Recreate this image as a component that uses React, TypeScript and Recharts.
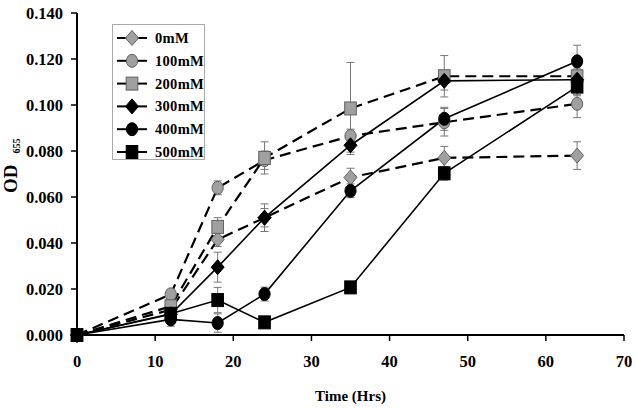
import React from 'react';
import { LineChart, Line, XAxis, YAxis, ErrorBar, Legend } from 'recharts';

const hours = [0, 12, 18, 24, 35, 47, 64];
const seriesNames = ['0mM', '100mM', '200mM', '300mM', '400mM', '500mM'];
const od0 = [0, 0.011, 0.0415, 0.051, 0.0685, 0.077, 0.078];
const od100 = [0, 0.0177, 0.064, 0.076, 0.0865, 0.0925, 0.1005];
const od200 = [0, 0.0125, 0.047, 0.077, 0.0985, 0.1125, 0.1125];
const od300 = [0, 0.009, 0.0295, 0.051, 0.0825, 0.1105, 0.111];
const od400 = [0, 0.0068, 0.0052, 0.0178, 0.0627, 0.094, 0.119];
const od500 = [0, 0.0092, 0.0152, 0.0055, 0.0207, 0.0703, 0.108];
const err0 = [0, 0.002, 0.003, 0.004, 0.004, 0.005, 0.006];
const err100 = [0, 0.002, 0.003, 0.004, 0.003, 0.006, 0.006];
const err200 = [0, 0.002, 0.004, 0.007, 0.02, 0.009, 0.008];
const err300 = [0, 0.002, 0.0065, 0.006, 0.003, 0.004, 0.005];
const err400 = [0, 0.003, 0.004, 0.003, 0.003, 0.005, 0.007];
const err500 = [0, 0.002, 0.0055, 0.002, 0.002, 0.003, 0.004];
const yTicks = [0, 0.02, 0.04, 0.06, 0.08, 0.1, 0.12, 0.14];
const xTicks = [0, 10, 20, 30, 40, 50, 60, 70];

const values = [od0, od100, od200, od300, od400, od500];
const errors = [err0, err100, err200, err300, err400, err500];

const data = hours.map((h, i) => {
  const row: any = { h };
  values.forEach((v, s) => {
    row['s' + s] = v[i];
    row['e' + s] = errors[s][i];
  });
  return row;
});

const GRAY = '#a0a0a0';
const GRAY_STROKE = '#606060';
const FONT = '"Liberation Serif", "Times New Roman", serif';

type Shape = 'diamond' | 'circle' | 'square';
const styles: { shape: Shape; fill: string; stroke: string; dashed: boolean }[] = [
  { shape: 'diamond', fill: GRAY, stroke: GRAY_STROKE, dashed: true },
  { shape: 'circle', fill: GRAY, stroke: GRAY_STROKE, dashed: true },
  { shape: 'square', fill: GRAY, stroke: GRAY_STROKE, dashed: true },
  { shape: 'diamond', fill: '#000', stroke: '#000', dashed: false },
  { shape: 'circle', fill: '#000', stroke: '#000', dashed: false },
  { shape: 'square', fill: '#000', stroke: '#000', dashed: false },
];

function Marker({ cx, cy, shape, fill, stroke }: { cx: number; cy: number; shape: Shape; fill: string; stroke: string }) {
  if (cx == null || cy == null) return null;
  if (shape === 'diamond') {
    const w = 6.5, h = 7.5;
    return (
      <polygon
        points={`${cx},${cy - h} ${cx + w},${cy} ${cx},${cy + h} ${cx - w},${cy}`}
        fill={fill}
        stroke={stroke}
        strokeWidth={1}
      />
    );
  }
  if (shape === 'circle') {
    return <ellipse cx={cx} cy={cy} rx={5.6} ry={6.5} fill={fill} stroke={stroke} strokeWidth={1} />;
  }
  return <rect x={cx - 5.8} y={cy - 6.5} width={11.6} height={13} fill={fill} stroke={stroke} strokeWidth={1} />;
}

function renderLegend() {
  return (
    <div
      style={{
        width: 93,
        height: 136,
        border: '1px solid #aaa',
        boxSizing: 'border-box',
        background: '#fff',
        position: 'relative',
      }}
    >
      <svg width={91} height={134} style={{ position: 'absolute', left: 0, top: 0 }}>
        {seriesNames.map((name, i) => {
          const y = 13 + i * 22.8;
          const st = styles[i];
          return (
            <g key={name}>
              <line x1={4} x2={34} y1={y} y2={y} stroke="#000" strokeWidth={2} />
              <Marker cx={19} cy={y} shape={st.shape} fill={st.fill} stroke={st.stroke} />
              <text
                x={42}
                y={y + 5}
                fontFamily={FONT}
                fontWeight="bold"
                fontSize={14.5}
                fill="#000"
                letterSpacing={0.3}
              >
                {name}
              </text>
            </g>
          );
        })}
      </svg>
    </div>
  );
}

function YLabel() {
  return (
    <text transform="translate(17,193) rotate(-90)" fontFamily={FONT} fontWeight="bold" fill="#000">
      <tspan x={0} y={0} fontSize={19}>OD</tspan>
      <tspan dx={11} dy={3} fontSize={10}>655</tspan>
    </text>
  );
}

export default function App() {
  return (
    <div style={{ position: 'absolute', left: 0, top: 0, width: 636, height: 408, background: '#fff' }}>
      <LineChart width={636} height={408} data={data} margin={{ top: 13, right: 12, left: 0, bottom: 0 }}>
        <XAxis
          dataKey="h"
          type="number"
          domain={[0, 70]}
          ticks={xTicks}
          height={73}
          axisLine={{ stroke: '#000', strokeWidth: 2 }}
          tickLine={{ stroke: '#000', strokeWidth: 1.5 }}
          tickSize={6}
          tickMargin={14}
          tick={{ fill: '#000', fontFamily: FONT, fontWeight: 'bold', fontSize: 16.5 }}
          label={{
            value: 'Time (Hrs)',
            position: 'insideBottom',
            offset: 7,
            style: { fill: '#000', fontFamily: FONT, fontWeight: 'bold', fontSize: 15 },
          }}
        />
        <YAxis
          type="number"
          domain={[0, 0.14]}
          ticks={yTicks}
          width={77}
          axisLine={{ stroke: '#000', strokeWidth: 2 }}
          tickLine={{ stroke: '#000', strokeWidth: 1.5 }}
          tickSize={6}
          tickMargin={8}
          tickFormatter={(v: number) => v.toFixed(3)}
          tick={{ fill: '#000', fontFamily: FONT, fontWeight: 'bold', fontSize: 16.5 }}
          label={{ content: () => <YLabel /> }}
        />
        <Legend
          layout="vertical"
          align="center"
          verticalAlign="middle"
          wrapperStyle={{ left: 112, top: 24, width: 93, height: 136 }}
          content={renderLegend}
        />
        {styles.map((st, i) => (
          <Line
            key={i}
            type="linear"
            dataKey={'s' + i}
            name={seriesNames[i]}
            stroke="#000"
            strokeWidth={st.dashed ? 2.2 : 1.6}
            strokeDasharray={st.dashed ? '11 6' : undefined}
            isAnimationActive={false}
            dot={(p: any) => (
              <Marker key={'d' + i + '-' + p.index} cx={p.cx} cy={p.cy} shape={st.shape} fill={st.fill} stroke={st.stroke} />
            )}
            activeDot={false}
          >
            <ErrorBar dataKey={'e' + i} width={4} stroke="#777" strokeWidth={1} direction="y" />
          </Line>
        ))}
      </LineChart>
    </div>
  );
}
